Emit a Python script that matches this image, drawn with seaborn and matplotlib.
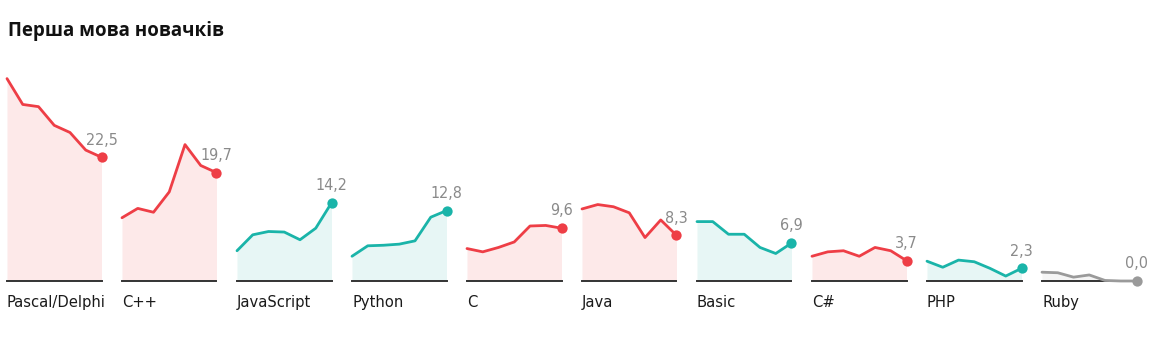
import numpy as np
import pandas as pd
import seaborn as sns
import matplotlib.pyplot as plt
from matplotlib import font_manager

# data (share, %, 7 surveys per language)
langs = ['Pascal/Delphi', 'C++', 'JavaScript', 'Python', 'C', 'Java', 'Basic', 'C#', 'PHP', 'Ruby']
points = [0, 1, 2, 3, 4, 5, 6]
pascal = [36.8, 32.1, 31.7, 28.3, 27.0, 23.8, 22.5]
cpp = [11.5, 13.2, 12.5, 16.2, 24.8, 21.0, 19.7]
js = [5.5, 8.4, 9.0, 8.9, 7.5, 9.6, 14.2]
python = [4.5, 6.4, 6.5, 6.7, 7.3, 11.6, 12.8]
c_lang = [5.9, 5.3, 6.1, 7.1, 10.0, 10.1, 9.6]
java = [13.1, 13.9, 13.5, 12.4, 7.9, 11.1, 8.3]
basic = [10.8, 10.8, 8.5, 8.5, 6.1, 5.0, 6.9]
csharp = [4.5, 5.3, 5.5, 4.5, 6.1, 5.5, 3.7]
php = [3.6, 2.5, 3.8, 3.5, 2.3, 0.9, 2.3]
ruby = [1.6, 1.5, 0.7, 1.1, 0.1, 0.0, 0.0]
series = [pascal, cpp, js, python, c_lang, java, basic, csharp, php, ruby]

rows = []
for name, vals in zip(langs, series):
    for p, v in zip(points, vals):
        rows.append({'lang': name, 'point': p, 'value': v})
df = pd.DataFrame(rows)

RED = '#ee3e46'
RED_FILL = '#fde9e9'
TEAL = '#1ab4a9'
TEAL_FILL = '#e7f6f5'
GRAY = '#9a9a9a'
GRAY_FILL = '#f5f5f5'

sns.set_theme(style='white')
plt.rcParams['font.family'] = ['DejaVu Sans']

# upright condensed face if the system has one, else plain DejaVu Sans
cond = None
for f in font_manager.fontManager.ttflist:
    if (f.name == 'DejaVu Sans' and f.style == 'normal'
            and f.stretch in ('condensed', 'semi-condensed')
            and f.weight in (400, 'normal', 'regular', 'book')):
        cond = f.fname
        break
label_font = font_manager.FontProperties(fname=cond) if cond else font_manager.FontProperties(family='DejaVu Sans')

W, H = 1153, 355
fig = plt.figure(figsize=(W / 100, H / 100), dpi=100)

fig.text(8 / W, 1 - 36 / H, 'Перша мова новачків', fontsize=13.5, fontweight='bold',
         family=['Open Sans', 'DejaVu Sans'], color='#111111', va='baseline', ha='left')

base_px = 281
ymax = 40
height_px = ymax * 5.5
for i, name in enumerate(langs):
    sub = df[df['lang'] == name]
    vals = sub['value'].values
    diff = vals[-1] - vals[-2]
    if diff > 0:
        col, fill = TEAL, TEAL_FILL
    elif diff < 0:
        col, fill = RED, RED_FILL
    else:
        col, fill = GRAY, GRAY_FILL

    left = 7 + i * 115
    ax = fig.add_axes([left / W, (H - base_px) / H, 94.5 / W, height_px / H])
    ax.fill_between(sub['point'], 0, sub['value'], color=fill, lw=0, zorder=1)
    sns.lineplot(data=sub, x='point', y='value', color=col, lw=2, ax=ax, zorder=4,
                 clip_on=False)
    ax.scatter([sub['point'].iloc[-1]], [vals[-1]], s=55, color=col, zorder=5,
               clip_on=False, linewidths=0)
    lp = label_font.copy()
    lp.set_size(11.5)
    ax.annotate(f'{vals[-1]:.1f}'.replace('.', ','), (sub['point'].iloc[-1], vals[-1]),
                xytext=(0, 7), textcoords='offset points', ha='center', va='bottom',
                fontproperties=lp, color='#8a8a8a')
    np_ = label_font.copy()
    np_.set_size(11.8)
    ax.annotate(name, (0, 0), xycoords=('data', 'axes fraction'), xytext=(0, -18.5),
                textcoords='offset points', ha='left', va='baseline', fontproperties=np_,
                color='#1a1a1a')

    ax.set_xlim(0, 6)
    ax.set_ylim(0, ymax)
    ax.set_xlabel('')
    ax.set_ylabel('')
    ax.set_xticks([])
    ax.set_yticks([])
    for s in ['top', 'left', 'right']:
        ax.spines[s].set_visible(False)
    ax.spines['bottom'].set_color('#333333')
    ax.spines['bottom'].set_linewidth(1.4)
    ax.spines['bottom'].set_zorder(3)
    ax.patch.set_alpha(0)

fig.savefig('out.png', dpi=100)
